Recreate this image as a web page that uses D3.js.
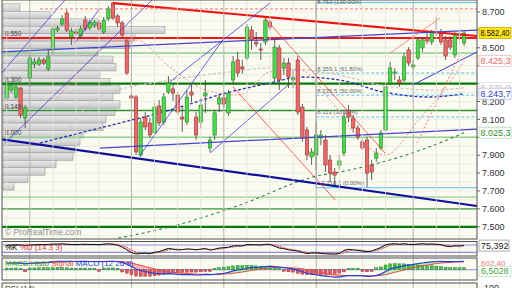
<!DOCTYPE html>
<html>
<head>
<meta charset="utf-8">
<script src="https://cdn.jsdelivr.net/npm/d3@7"></script>
<style>
body{margin:0;background:#fff;}
svg{display:block;font-family:"Liberation Sans",Arial,sans-serif;}
</style>
</head>
<body>
<div id="chart"></div>
<script>
// ---- candles (daily OHLC, points) ----
var opens = [8220,8264,8225,8275,8108,8331,8409,8409,8432,8382,
  8488,8599,8633,8694,8560,8588,8566,8655,8611,8627,
  8639,8588,8661,8750,8678,8639,8538,8231,8225,7901,
  8113,8080,8024,8175,8085,8253,8270,8236,8113,8085,
  8253,8113,8085,8231,7940,8013,8186,8220,8136,8320,
  8432,8393,8443,8599,8532,8493,8532,8644,8331,8499,
  8387,8415,8320,8432,8169,8041,7890,7901,7996,7985,
  7873,7806,7845,7912,8152,8108,8052,7974,7985,7845,
  7884,7940,8041,8303,8359,8320,8320,8488,8393,8443,
  8499,8555,8532,8588,8588,8544,8544,8460,8566,8527];
var highs = [8303,8298,8292,8281,8180,8460,8443,8449,8443,8488,
  8616,8622,8683,8711,8611,8605,8622,8678,8655,8655,
  8655,8672,8734,8753,8689,8650,8549,8242,8236,8108,
  8141,8108,8197,8208,8247,8342,8292,8253,8169,8264,
  8298,8141,8220,8320,8002,8152,8236,8253,8264,8454,
  8477,8432,8633,8622,8588,8527,8666,8655,8544,8516,
  8443,8443,8376,8454,8186,8058,7940,8085,8041,8013,
  7901,7828,7901,8152,8180,8125,8069,7996,8002,7873,
  7940,8041,8298,8421,8387,8342,8471,8504,8432,8560,
  8560,8583,8599,8672,8605,8566,8566,8588,8588,8594];
var lows = [8208,8253,8214,8108,8052,8281,8387,8398,8404,8370,
  8460,8588,8622,8588,8516,8572,8555,8594,8599,8611,
  8594,8577,8650,8655,8616,8560,8348,8208,7901,7890,
  8041,7996,8013,8063,8069,8242,8203,8125,8030,8069,
  8197,7985,8052,8136,7918,7985,8141,8164,8119,8303,
  8337,8354,8432,8488,8504,8432,8516,8599,8309,8264,
  8348,8275,8275,8125,7974,7873,7845,7817,7957,7806,
  7750,7733,7817,7895,8085,8030,7985,7929,7722,7761,
  7862,7929,8013,8292,8320,8281,8309,8398,8376,8432,
  8477,8521,8516,8566,8516,8432,8488,8443,8544,8510];
var closes = [8292,8292,8281,8125,8164,8443,8421,8432,8415,8449,
  8605,8611,8661,8599,8594,8583,8605,8605,8644,8644,
  8605,8655,8717,8666,8639,8572,8359,8220,7918,8085,
  8058,8013,8169,8080,8225,8303,8247,8141,8102,8225,
  8236,8013,8180,8247,7985,8136,8220,8186,8247,8421,
  8359,8382,8616,8544,8521,8488,8655,8616,8504,8320,
  8415,8337,8331,8141,7996,7901,7918,8013,8013,7845,
  7800,7789,7868,8113,8113,8052,8002,7940,7800,7806,
  7912,8024,8281,8387,8365,8303,8449,8415,8404,8544,
  8544,8538,8588,8583,8532,8454,8504,8572,8577,8582.4];

// ---- axis / grid ----
var priceTicks = [8700,8600,8500,8400,8300,8200,8100,8000,7900,7800,7700,7600,7500];
var monthLines = [5,27,47,67,88];
var weekLines = [0,10,15,20,32,37,42,52,57,62,72,77,82,93,98];

// ---- volume profile (relative volume per price bin, top to bottom) ----
var vpTop = 8745, vpBottom = 7705;
var volumeProfile = [17,47,95,162,132,127,95,110,113,97,107,117,110,117,112,103,100,80,77,72,70,53,42,25,11];

// ---- horizontal levels ----
var levels = [8555,8471,8300,8149,8000,7666,7600,7500];
var levelLabels = ["8.550","","8.300","8.149","8.000","","",""];

// ---- fibonacci retracement ----
var fibStart = 67;
var fibLevels = [8753,8359.1,8235.5,8113.4,7718.1];
var fibLabels = ["8.753 (100.00%)","8.359,1 (61.80%)","8.235,5 (50.00%)","8.113 (38.20%)","7.718,1 (0.00%)"];

// ---- trend lines [index1, price1, index2, price2] ----
var trendLines = [
  [23.0,8750,101.8,8566],
  [-1.45,7990,101.8,7616],
  [-1.45,8477,101.8,8599],
  [20.2,7940,101.8,8046],
  [-1.45,8348,12.6,8767],
  [-0.37,7968,31.45,8767],
  [14.8,8527,20.2,8722],
  [28.9,7901,46.8,8544],
  [35.3,8309,57.0,8750],
  [44.0,7912,60.9,8292],
  [87.9,8292,101.8,8477],
  [55.9,8666,81.9,7912],
  [49.0,8281,71.1,7650],
  [83.0,8471,93.8,8666],
  [88.8,7968,98.1,8460],
  [7.2,8717,101.8,8717]
];

// ---- moving averages [index, price] ----
var maPink = [[10.9,8219],[17,8404],[22.4,8532],[27.8,8544],[35.3,8393],[43,8264],[50.5,8236],[57,8365],[63.5,8376],[70,8208],[76.5,7985],[81.9,7901],[89.5,8108],[93.8,8236],[99,8425.3]];
var maGray = [[11.5,7985],[20.2,8225],[35.3,8320],[48.3,8365],[57,8387],[70,8359],[80.8,8292],[91.6,8264],[99,8275.9]];
var maNavy = [[7.2,7968],[20.2,8052],[35.3,8152],[48.3,8253],[57,8303],[63.5,8337],[72.1,8320],[81.5,8253],[91.6,8225],[99,8243.7]];
var maGreen = [[24.1,7437],[35.3,7499],[50.5,7622],[67.2,7784],[72.1,7806],[85.1,7890],[95.3,7985],[99,8025.3]];

// ---- stochastic %K %D (14 3 3) ----
var stochK = [78,80,82,80,76,80,82,84,83,85, 88,87,90,86,84,83,85,86,84,85,
  83,87,90,86,78,62,40,18,6,10, 12,8,20,25,40,52,46,40,42,48,
  45,40,46,52,38,45,55,58,62,72, 74,72,84,83,82,80,86,85,70,55,
  50,40,36,30,18,10,14,16,10,8, 6,5,10,35,45,40,35,30,25,30,
  45,60,82,88,90,86,90,85,84,88, 90,87,88,86,82,70,66,74,72,75.392];
var stochD = [76,78,80,81,80,79,80,82,83,84, 85,86,88,88,87,85,84,85,85,85,
  84,85,87,88,85,76,60,40,22,12, 10,10,13,18,28,39,46,46,43,43,
  45,44,44,46,45,45,46,52,58,64, 69,72,77,80,83,82,83,84,80,70,
  58,48,42,35,28,19,14,13,13,11, 8,7,7,17,30,40,40,36,30,30,
  33,45,62,77,87,88,89,87,86,86, 87,88,88,87,85,79,73,70,71,74];

// ---- MACD (12 26 9) ----
var macdLine = [45,46,47,45,40,44,46,48,50,52, 55,57,58,58,57,56,57,57,56,56,
  55,56,58,58,56,50,38,22,5,-5, -12,-20,-25,-28,-28,-27,-28,-31,-33,-33,
  -34,-36,-35,-32,-34,-32,-28,-24,-18,-8, -2,2,10,14,16,18,22,24,22,18,
  14,10,6,-4,-14,-24,-30,-34,-40,-44, -48,-50,-50,-44,-40,-40,-40,-42,-45,-44,
  -38,-30,-12,4,14,20,28,32,36,42, 46,50,54,56,57,55,55,56,56,57];
var signalLine = [44,45,45,45,44,43,44,45,46,48, 50,52,54,55,56,56,56,56,56,56,
  56,56,56,56,56,55,52,46,38,30, 22,14,6,-2,-8,-13,-17,-21,-24,-26,
  -28,-30,-31,-31,-32,-32,-31,-30,-28,-24, -20,-16,-10,-5,0,4,8,12,14,15,
  15,14,12,10,6,0,-6,-12,-18,-24, -29,-33,-37,-39,-40,-40,-40,-40,-41,-42,
  -41,-39,-34,-26,-18,-10,-2,6,13,20, 26,32,37,42,46,48,50,52,53,54];
var histogram = [1,1,2,0,-4,1,2,3,4,4, 5,5,4,3,1,0,1,1,0,0,
  -1,0,2,2,0,-5,-14,-24,-33,-35, -34,-34,-31,-26,-20,-14,-11,-10,-9,-7,
  -6,-6,-4,-1,-2,0,3,6,10,16, 18,18,20,19,16,14,14,12,8,3,
  -1,-4,-6,-14,-20,-24,-24,-22,-22,-20, -19,-17,-13,-5,0,0,0,-2,-4,-2,
  3,9,22,30,32,30,30,26,23,22, 20,18,17,14,11,7,5,4,3,3];

// ---- layout ----
var W = 512, H = 288, R = 477, L = 2;
var n = closes.length;
var loc = d3.formatLocale({decimal: ",", thousands: ".", grouping: [3], currency: ["", ""]});
var fmt0 = loc.format(",.0f"), fmt1 = loc.format(",.1f"), fmt2 = loc.format(",.2f");

var svg = d3.select("#chart").append("svg").attr("width", W).attr("height", H);
var defs = svg.append("defs");

var x = d3.scaleLinear().domain([-1.45, 101.8]).range([0, R]);
var y = d3.scaleLinear().domain([8767, 7443]).range([0, 237]);
var yK = d3.scaleLinear().domain([0, 100]).range([254.7, 242.6]);
var yM = d3.scaleLinear().domain([-70, 80]).range([280, 258]);

var panels = [[0, 239], [241.5, 256], [258, 280], [283, 300]];

svg.append("rect").attr("width", W).attr("height", H).attr("fill", "#fff");
svg.selectAll(".pbg").data(panels).enter().append("rect")
    .attr("x", L).attr("y", function(d) {return d[0];})
    .attr("width", R - L).attr("height", function(d) {return d[1] - d[0];})
    .attr("fill", "#fbfbf1");

defs.append("clipPath").attr("id", "mainClip").append("rect")
    .attr("x", L).attr("y", 0).attr("width", R - L).attr("height", 239);
defs.append("clipPath").attr("id", "stochClip").append("rect")
    .attr("x", L).attr("y", 241.5).attr("width", R - L).attr("height", 14.5);
defs.append("clipPath").attr("id", "macdClip").append("rect")
    .attr("x", L).attr("y", 258).attr("width", R - L).attr("height", 22);

var grad = defs.append("linearGradient").attr("id", "vpGrad").attr("x1", 0).attr("x2", 0).attr("y1", 0).attr("y2", 1);
grad.append("stop").attr("offset", "0%").attr("stop-color", "#ececec");
grad.append("stop").attr("offset", "100%").attr("stop-color", "#c6c6c6");

var main = svg.append("g").attr("clip-path", "url(#mainClip)");

// grid
main.selectAll(".hgrid").data(d3.range(7450, 8800, 50)).enter().append("line")
    .attr("x1", L).attr("x2", R)
    .attr("y1", function(d) {return y(d);}).attr("y2", function(d) {return y(d);})
    .attr("stroke", "#e6e6da").attr("stroke-width", 0.7);

svg.selectAll(".wgrid").data(weekLines).enter().append("line")
    .attr("x1", function(d) {return x(d);}).attr("x2", function(d) {return x(d);})
    .attr("y1", 0).attr("y2", H)
    .attr("stroke", "#e2e2d6").attr("stroke-width", 0.8);
svg.selectAll(".mgrid").data(monthLines).enter().append("line")
    .attr("x1", function(d) {return x(d);}).attr("x2", function(d) {return x(d);})
    .attr("y1", 0).attr("y2", H)
    .attr("stroke", "#b4b4b0").attr("stroke-width", 1);

// volume profile
var binH = (vpTop - vpBottom) / volumeProfile.length;
var vpX = d3.scaleLinear().domain([0, 170]).range([3, 173]);
main.selectAll(".vp").data(volumeProfile).enter().append("rect")
    .attr("x", 3)
    .attr("y", function(d, i) {return y(vpTop - i * binH);})
    .attr("width", function(d) {return vpX(d) - 3;})
    .attr("height", function(d, i) {return y(vpTop - (i + 1) * binH) - y(vpTop - i * binH);})
    .attr("fill", "url(#vpGrad)").attr("stroke", "#9c9c9c").attr("stroke-width", 0.6);

// horizontal levels
var levelStyle = [
  {c: "#ee1a1a", w: 2}, {c: "#8fcf8f", w: 1.5}, {c: "#0b7a0b", w: 2.2}, {c: "#2e8f2e", w: 1.5},
  {c: "#8fcf8f", w: 1.6}, {c: "#8fcf8f", w: 1.4}, {c: "#3f9a3f", w: 1.3}, {c: "#0b7a0b", w: 2.2}
];
main.selectAll(".lvl").data(levels).enter().append("line")
    .attr("x1", L).attr("x2", R)
    .attr("y1", function(d) {return y(d);}).attr("y2", function(d) {return y(d);})
    .attr("stroke", function(d, i) {return levelStyle[i].c;})
    .attr("stroke-width", function(d, i) {return levelStyle[i].w;});

// fibonacci
main.selectAll(".fib").data(fibLevels).enter().append("line")
    .attr("x1", x(fibStart)).attr("x2", R)
    .attr("y1", function(d) {return y(d);}).attr("y2", function(d) {return y(d);})
    .attr("stroke", "#55c3f0").attr("stroke-width", 1)
    .attr("stroke-dasharray", function(d, i) {return (i == 0 || i == fibLevels.length - 1) ? null : "3,2";});
main.append("line").attr("x1", x(fibStart)).attr("x2", x(fibStart))
    .attr("y1", y(fibLevels[0])).attr("y2", y(fibLevels[4]))
    .attr("stroke", "#9a9a9a").attr("stroke-width", 1);

// moving averages
var maLine = d3.line()
    .x(function(d) {return x(d[0]);})
    .y(function(d) {return y(d[1]);})
    .curve(d3.curveMonotoneX);
var mas = [
  {d: maGreen, c: "#2f8a4a", w: 1.1, dash: "3,3"},
  {d: maGray, c: "#c9c9bd", w: 1.3, dash: "3,2"},
  {d: maPink, c: "#f08a8a", w: 1, dash: "2,2"},
  {d: maNavy, c: "#2030b0", w: 1.3, dash: "3,2"}
];
main.selectAll(".ma").data(mas).enter().append("path")
    .attr("d", function(d) {return maLine(d.d);})
    .attr("fill", "none")
    .attr("stroke", function(d) {return d.c;})
    .attr("stroke-width", function(d) {return d.w;})
    .attr("stroke-dasharray", function(d) {return d.dash;});

// candles
var idx = d3.range(n);
main.selectAll(".wick").data(idx).enter().append("line")
    .attr("x1", function(i) {return x(i);}).attr("x2", function(i) {return x(i);})
    .attr("y1", function(i) {return y(highs[i]);}).attr("y2", function(i) {return y(lows[i]);})
    .attr("stroke", "#3a3a3a").attr("stroke-width", 0.8);
main.selectAll(".body").data(idx).enter().append("rect")
    .attr("x", function(i) {return x(i) - 1.7;})
    .attr("width", 3.4)
    .attr("y", function(i) {return y(Math.max(opens[i], closes[i]));})
    .attr("height", function(i) {return Math.max(1, Math.abs(y(opens[i]) - y(closes[i])));})
    .attr("fill", function(i) {return closes[i] >= opens[i] ? "#4fd64f" : "#e56b6b";})
    .attr("stroke", function(i) {return closes[i] >= opens[i] ? "#268a26" : "#a33030";})
    .attr("stroke-width", 0.6);

// trend lines
var trendStyle = [
  {c: "#ee1111", w: 2.2}, {c: "#10109c", w: 2.2}, {c: "#4444cc", w: 1.3}, {c: "#4444cc", w: 1.2},
  {c: "#3c3cd8", w: 0.8}, {c: "#3c3cd8", w: 0.8}, {c: "#3c3cd8", w: 0.8}, {c: "#3c3cd8", w: 0.8},
  {c: "#3c3cd8", w: 0.8}, {c: "#3c3cd8", w: 0.8}, {c: "#3c3cd8", w: 1},
  {c: "#f03c3c", w: 0.8}, {c: "#f03c3c", w: 0.8}, {c: "#f07070", w: 0.8},
  {c: "#f07878", w: 1, dash: "2,2"}, {c: "#f07070", w: 1, dash: "3,2"}
];
main.selectAll(".trend").data(trendLines).enter().append("line")
    .attr("x1", function(d) {return x(d[0]);}).attr("y1", function(d) {return y(d[1]);})
    .attr("x2", function(d) {return x(d[2]);}).attr("y2", function(d) {return y(d[3]);})
    .attr("stroke", function(d, i) {return trendStyle[i].c;})
    .attr("stroke-width", function(d, i) {return trendStyle[i].w;})
    .attr("stroke-dasharray", function(d, i) {return trendStyle[i].dash || null;});

// texts inside main panel
main.selectAll(".lvlLabel").data(levels).enter().append("text")
    .attr("x", 5).attr("y", function(d) {return y(d) - 2;})
    .text(function(d, i) {return levelLabels[i];})
    .style("font-size", "6.5px").attr("fill", "#444");
main.selectAll(".fibLabel").data(fibLevels).enter().append("text")
    .attr("x", function(d, i) {return x(fibStart) + (i == 4 ? 5 : 1);})
    .attr("y", function(d, i) {return i == 0 ? y(d) + 1.5 : y(d) - 2.5;})
    .text(function(d, i) {return fibLabels[i];})
    .style("font-size", "6px").attr("fill", "#666");
main.append("text").attr("x", 5).attr("y", 235).text("\u00a9 ProRealTime.com")
    .style("font-size", "8.5px").attr("fill", "#8a8a8a");

// ---- stochastic panel ----
var st = svg.append("g").attr("clip-path", "url(#stochClip)");
st.selectAll(".ref").data([80, 20]).enter().append("line")
    .attr("x1", L).attr("x2", R)
    .attr("y1", function(d) {return yK(d);}).attr("y2", function(d) {return yK(d);})
    .attr("stroke", "#8c8ce6").attr("stroke-width", 1.2);
st.selectAll(".kfill").data(d3.pairs(idx)).enter().append("polygon")
    .attr("points", function(p) {
        return [[x(p[0]), yK(stochK[p[0]])], [x(p[1]), yK(stochK[p[1]])],
                [x(p[1]), yK(stochD[p[1]])], [x(p[0]), yK(stochD[p[0]])]].join(" ");
    })
    .attr("fill", function(p) {return stochK[p[0]] + stochK[p[1]] >= stochD[p[0]] + stochD[p[1]] ? "#b8b8b8" : "#f3b0b0";})
    .attr("opacity", 0.8);
st.append("path").datum(idx)
    .attr("d", d3.line().x(function(i) {return x(i);}).y(function(i) {return yK(stochD[i]);}))
    .attr("fill", "none").attr("stroke", "#e84a4a").attr("stroke-width", 0.9).attr("stroke-dasharray", "2,1");
st.append("path").datum(idx)
    .attr("d", d3.line().x(function(i) {return x(i);}).y(function(i) {return yK(stochK[i]);}))
    .attr("fill", "none").attr("stroke", "#111").attr("stroke-width", 1);
var stTitle = st.append("text").attr("x", 5).attr("y", 250).style("font-size", "8px");
stTitle.append("tspan").text("%K ").attr("fill", "#000");
stTitle.append("tspan").text("%D (14 3 3)").attr("fill", "#e03a3a");

// ---- MACD panel ----
var mc = svg.append("g").attr("clip-path", "url(#macdClip)");
mc.append("line").attr("x1", L).attr("x2", R).attr("y1", yM(0)).attr("y2", yM(0))
    .attr("stroke", "#8c8ce6").attr("stroke-width", 1.2);
mc.selectAll(".mfill").data(d3.pairs(idx)).enter().append("polygon")
    .attr("points", function(p) {
        return [[x(p[0]), yM(macdLine[p[0]])], [x(p[1]), yM(macdLine[p[1]])],
                [x(p[1]), yM(signalLine[p[1]])], [x(p[0]), yM(signalLine[p[0]])]].join(" ");
    })
    .attr("fill", function(p) {return macdLine[p[0]] + macdLine[p[1]] >= signalLine[p[0]] + signalLine[p[1]] ? "#a6e6a6" : "#f3a8a8";})
    .attr("opacity", 0.85);
mc.selectAll(".hist").data(idx).enter().append("rect")
    .attr("x", function(i) {return x(i) - 1.5;})
    .attr("width", 3)
    .attr("y", function(i) {return Math.min(yM(0), yM(histogram[i])) - (histogram[i] >= 0 ? 1.5 : 0);})
    .attr("height", function(i) {return Math.abs(yM(histogram[i]) - yM(0)) + 1.5;})
    .attr("fill", function(i) {return histogram[i] >= 0 ? "#3fc03f" : "#e05a5a";})
    .attr("stroke", function(i) {return histogram[i] >= 0 ? "#1f7a1f" : "#8e2a2a";})
    .attr("stroke-width", 0.4);
mc.append("path").datum(idx)
    .attr("d", d3.line().x(function(i) {return x(i);}).y(function(i) {return yM(signalLine[i]);}))
    .attr("fill", "none").attr("stroke", "#e84a4a").attr("stroke-width", 1);
mc.append("path").datum(idx)
    .attr("d", d3.line().x(function(i) {return x(i);}).y(function(i) {return yM(macdLine[i]);}))
    .attr("fill", "none").attr("stroke", "#2b3fd8").attr("stroke-width", 1.2);
var mcTitle = mc.append("text").attr("x", 5).attr("y", 266).style("font-size", "8px");
mcTitle.append("tspan").text("MACD ").attr("fill", "#32b432");
mcTitle.append("tspan").text("Histo ").attr("fill", "#3c8c3c");
mcTitle.append("tspan").text("Signal ").attr("fill", "#e04848");
mcTitle.append("tspan").text("MACD (12 26 9)").attr("fill", "#2b3fd8");

// ---- RSI panel (title only visible) ----
svg.append("text").attr("x", 5).attr("y", 290.5).text("RSI (14)")
    .style("font-size", "8px").attr("fill", "#333");

// panel frames
svg.selectAll(".frame").data(panels).enter().append("rect")
    .attr("x", L).attr("y", function(d) {return d[0];})
    .attr("width", R - L).attr("height", function(d) {return d[1] - d[0];})
    .attr("fill", "none").attr("stroke", "#505050").attr("stroke-width", 1);

// ---- right price axis ----
var tags = [
  {v: maPink[maPink.length - 1][1], t: fmt1(maPink[maPink.length - 1][1]), fill: "#fff", stroke: "#f2b8b8", c: "#e66a6a"},
  {v: maGray[maGray.length - 1][1], t: fmt1(maGray[maGray.length - 1][1]), fill: "#fff", stroke: "#dedede", c: "#c4c4c4"},
  {v: maNavy[maNavy.length - 1][1], t: fmt1(maNavy[maNavy.length - 1][1]), fill: "#fff", stroke: "#b8bce8", c: "#2b3fc8"},
  {v: maGreen[maGreen.length - 1][1], t: fmt1(maGreen[maGreen.length - 1][1]), fill: "#fff", stroke: "#b8dcb8", c: "#2f8f2f"},
  {v: closes[n - 1], t: fmt2(closes[n - 1]), fill: "#ffe41c", stroke: "#c9a800", c: "#111"}
];
// tick labels that sit under a value tag are hidden, as on the original
var freeTicks = priceTicks.filter(function(p) {
    return tags.every(function(t) {return Math.abs(y(t.v) - y(p)) > 7;});
});
svg.selectAll(".tick").data(freeTicks).enter().append("text")
    .attr("x", 482).attr("y", function(d) {return y(d);}).attr("dy", "0.35em")
    .text(function(d) {return fmt0(d);})
    .style("font-size", "9px").attr("fill", "#333");
svg.selectAll(".tickmark").data(priceTicks).enter().append("line")
    .attr("x1", R).attr("x2", R + 3)
    .attr("y1", function(d) {return y(d);}).attr("y2", function(d) {return y(d);})
    .attr("stroke", "#666");

var tagG = svg.selectAll(".tag").data(tags).enter().append("g");
tagG.append("rect")
    .attr("x", 479).attr("y", function(d) {return y(d.v) - 5.5;})
    .attr("width", 32).attr("height", 11)
    .attr("fill", function(d) {return d.fill;}).attr("stroke", function(d) {return d.stroke;}).attr("stroke-width", 0.8);
tagG.append("text")
    .attr("x", 480.5).attr("y", function(d) {return y(d.v);}).attr("dy", "0.35em")
    .text(function(d) {return d.t;})
    .attr("textLength", function(d) {return d.t.length > 7 ? 29 : null;})
    .attr("lengthAdjust", "spacingAndGlyphs")
    .style("font-size", "9px").attr("fill", function(d) {return d.c;});

// lower panel tags
svg.append("rect").attr("x", 479).attr("y", yK(stochK[n - 1]) - 5.5).attr("width", 30).attr("height", 11)
    .attr("fill", "#fff").attr("stroke", "#999").attr("stroke-width", 0.8);
svg.append("text").attr("x", 481).attr("y", yK(stochK[n - 1])).attr("dy", "0.35em")
    .text(loc.format(",.3f")(stochK[n - 1])).style("font-size", "9px").attr("fill", "#222");
svg.append("text").attr("x", 481).attr("y", 263).attr("dy", "0.35em")
    .text("602,40").style("font-size", "8px").attr("fill", "#ee7777");
svg.append("rect").attr("x", 479).attr("y", 266).attr("width", 32).attr("height", 10.5)
    .attr("fill", "#fff").attr("stroke", "#bfe0bf").attr("stroke-width", 0.8);
svg.append("text").attr("x", 481).attr("y", 271.3).attr("dy", "0.35em")
    .text("6,5028").style("font-size", "9px").attr("fill", "#3aa83a");
svg.append("text").attr("x", 484).attr("y", 290.5).text("100")
    .style("font-size", "9px").attr("fill", "#333");
</script>
</body>
</html>
